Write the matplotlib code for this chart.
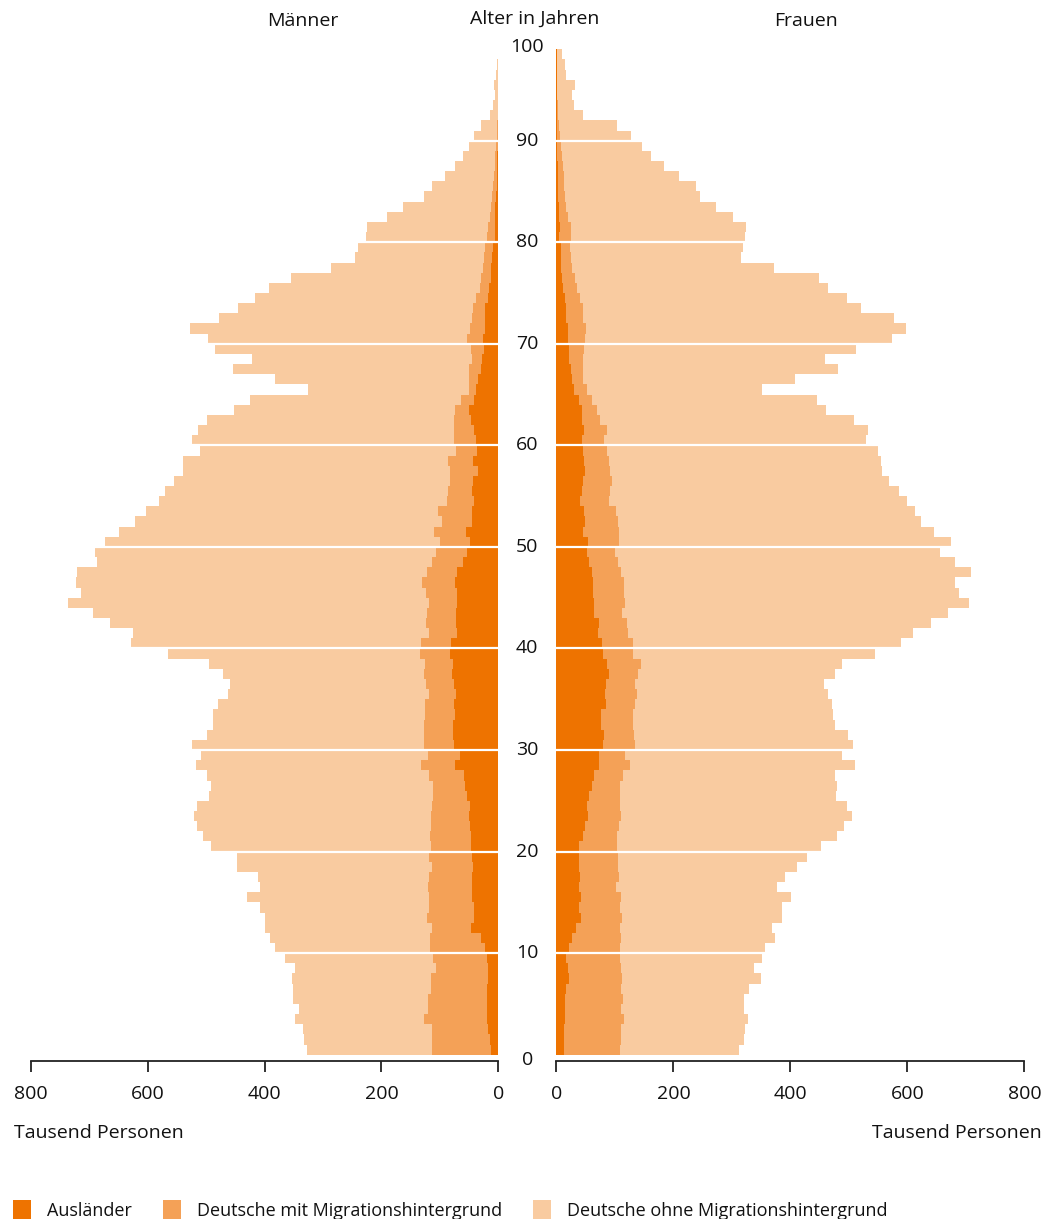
import matplotlib.pyplot as plt
from matplotlib.patches import Patch
from matplotlib.transforms import blended_transform_factory

plt.rcParams['font.family'] = ['Open Sans', 'DejaVu Sans']

# Alter 0..98, Werte in Tausend Personen
alter = list(range(99))

m_auslaender = [13, 15, 17, 20, 19, 19, 19, 18, 18, 20,
                22, 29, 47, 41, 42, 45, 45, 45, 44, 45,
                46, 47, 49, 51, 49, 54, 57, 59, 74, 66,
                76, 78, 77, 75, 76, 73, 76, 79, 78, 82,
                81, 71, 73, 73, 70, 71, 74, 70, 60, 54,
                49, 56, 45, 45, 41, 45, 43, 35, 44, 37,
                38, 42, 47, 50, 42, 38, 34, 30, 28, 25,
                27, 23, 22, 22, 18, 16, 13, 13, 10, 9,
                6, 6, 6, 5, 4, 3, 3, 2, 2, 1,
                1, 1, 0.5, 0.3, 0.3, 0.3, 0.2, 0.2, 0.1]
m_mit = [101, 99, 97, 107, 101, 101, 96, 97, 89, 92,
         95, 88, 67, 81, 77, 74, 75, 74, 69, 74,
         69, 70, 66, 64, 65, 58, 54, 59, 58, 54,
         51, 50, 50, 51, 50, 46, 48, 49, 48, 52,
         51, 48, 51, 49, 49, 52, 56, 52, 54, 53,
         51, 54, 51, 58, 47, 42, 40, 47, 42, 36,
         38, 34, 29, 24, 22, 12, 17, 20, 17, 22,
         27, 25, 23, 21, 20, 15, 17, 14, 15, 13,
         14, 12, 8, 7, 7, 6, 4, 4, 3, 3,
         2, 1, 0.5, 0.7, 0.7, 0.7, 0.3, 0.3, 0.2]
m_ohne = [214, 219, 221, 221, 222, 231, 236, 238, 241, 253,
          265, 274, 285, 277, 289, 311, 288, 293, 334, 328,
          377, 389, 401, 406, 401, 384, 381, 380, 386, 389,
          398, 370, 361, 363, 354, 343, 336, 344, 370, 432,
          497, 507, 541, 572, 618, 592, 593, 599, 573, 583,
          573, 540, 526, 500, 493, 483, 473, 458, 454, 438,
          448, 438, 423, 378, 361, 275, 331, 404, 377, 438,
          443, 480, 434, 402, 378, 361, 325, 260, 221, 219,
          207, 207, 176, 151, 117, 104, 85, 68, 55, 46,
          39, 28, 13, 8, 5, 7, 3.5, 2.5, 0.7]

f_auslaender = [13, 12, 12, 15, 15, 15, 17, 22, 19, 17,
                21, 27, 34, 42, 38, 42, 39, 41, 38, 39,
                39, 45, 48, 54, 53, 55, 60, 65, 73, 72,
                80, 82, 76, 76, 85, 83, 84, 89, 87, 79,
                78, 71, 72, 65, 65, 62, 63, 60, 56, 53,
                54, 46, 49, 47, 41, 43, 46, 49, 47, 46,
                43, 47, 43, 43, 38, 30, 27, 25, 21, 21,
                19, 19, 17, 16, 14, 11, 9, 8, 8, 7,
                5, 6, 4, 4, 3, 2, 2, 2, 1.5, 1,
                1, 1, 0.5, 0.5, 0.3, 0.3, 0.2, 0.2, 0.1]
f_mit = [96, 98, 99, 101, 95, 99, 94, 90, 92, 92,
         87, 83, 74, 70, 70, 69, 62, 66, 68, 67,
         64, 58, 59, 57, 55, 54, 49, 49, 52, 46,
         55, 51, 55, 54, 50, 55, 50, 51, 58, 52,
         53, 51, 49, 47, 53, 54, 53, 51, 50, 47,
         53, 61, 57, 55, 49, 49, 49, 43, 43, 40,
         38, 40, 32, 27, 22, 23, 19, 21, 24, 26,
         30, 31, 29, 29, 27, 24, 23, 19, 17, 16,
         20, 19, 16, 13, 11, 11, 11, 9, 7.5, 6,
         5, 4, 1.5, 1.5, 1.2, 1.2, 0.8, 0.8, 0.4]
f_ohne = [203, 211, 211, 212, 211, 207, 218, 237, 226, 243,
          249, 263, 261, 273, 278, 290, 276, 283, 305, 322,
          350, 377, 384, 394, 389, 369, 371, 362, 386, 371,
          372, 365, 346, 342, 336, 326, 323, 336, 343, 413,
          458, 488, 520, 557, 588, 572, 566, 598, 575, 555,
          567, 538, 518, 511, 510, 493, 473, 464, 465, 464,
          449, 446, 433, 391, 385, 299, 362, 435, 415, 465,
          525, 547, 532, 475, 456, 429, 417, 345, 291, 296,
          298, 299, 281, 256, 231, 226, 197, 172, 153, 140,
          122, 99, 44, 28, 24.5, 30.5, 15, 13, 8.5]

gruppen = ['Ausländer', 'Deutsche mit Migrationshintergrund', 'Deutsche ohne Migrationshintergrund']
farben = ['#EE7300', '#F4A157', '#F9CBA0']
x_ticks = [0, 200, 400, 600, 800]
alter_ticks = [0, 10, 20, 30, 40, 50, 60, 70, 80, 90, 100]
fs = 14

fig = plt.figure(figsize=(10.48, 12.19), dpi=100)
ax_m = fig.add_axes([0.0296, 0.1296, 0.4459, 0.8383])
ax_f = fig.add_axes([0.5310, 0.1296, 0.4464, 0.8383])


def pyramide(ax, serien):
    links = [0] * len(alter)
    for werte, farbe in zip(serien, farben):
        ax.barh(alter, werte, height=1, left=links, align='edge',
                color=farbe, linewidth=0)
        links = [a + b for a, b in zip(links, werte)]
    for y in alter_ticks[1:-1]:
        ax.axhline(y, color='white', lw=1.6, zorder=3)
    ax.set_ylim(-0.62, 100)
    ax.set_yticks([])
    for s in ['left', 'right', 'top']:
        ax.spines[s].set_visible(False)
    ax.spines['bottom'].set_linewidth(1.3)
    ax.spines['bottom'].set_color('#222222')
    ax.set_xticks(x_ticks)
    ax.tick_params(axis='x', length=8, width=1.3, color='#222222',
                   labelsize=fs, pad=9, labelcolor='#111111')


pyramide(ax_m, [m_auslaender, m_mit, m_ohne])
pyramide(ax_f, [f_auslaender, f_mit, f_ohne])
ax_m.set_xlim(800, 0)
ax_f.set_xlim(0, 800)

# Altersbeschriftung in der Mitte
trans = blended_transform_factory(fig.transFigure, ax_f.transData)
for a in alter_ticks:
    ypos = a
    if a == 0:
        ypos = -0.5
    if a == 100:
        ypos = 99.2
    fig.text(0.503, ypos, str(a), transform=trans, ha='center', va='center',
             fontsize=fs, color='#111111')

fig.text(0.289, 0.983, 'Männer', ha='center', va='center', fontsize=fs, color='#111111')
fig.text(0.510, 0.985, 'Alter in Jahren', ha='center', va='center', fontsize=fs, color='#111111')
fig.text(0.769, 0.983, 'Frauen', ha='center', va='center', fontsize=fs, color='#111111')

fig.text(0.013, 0.0705, 'Tausend Personen', ha='left', va='center', fontsize=fs, color='#111111')
fig.text(0.994, 0.0705, 'Tausend Personen', ha='right', va='center', fontsize=fs, color='#111111')

handles = [Patch(facecolor=f, edgecolor='none') for f in farben]
fig.legend(handles, gruppen, loc='lower left', bbox_to_anchor=(-0.003, -0.014),
           ncol=3, frameon=False, fontsize=13, handlelength=1.0, handleheight=1.2,
           handletextpad=0.9, columnspacing=1.7, labelcolor='#111111')

fig.savefig('out.png', dpi=100)
